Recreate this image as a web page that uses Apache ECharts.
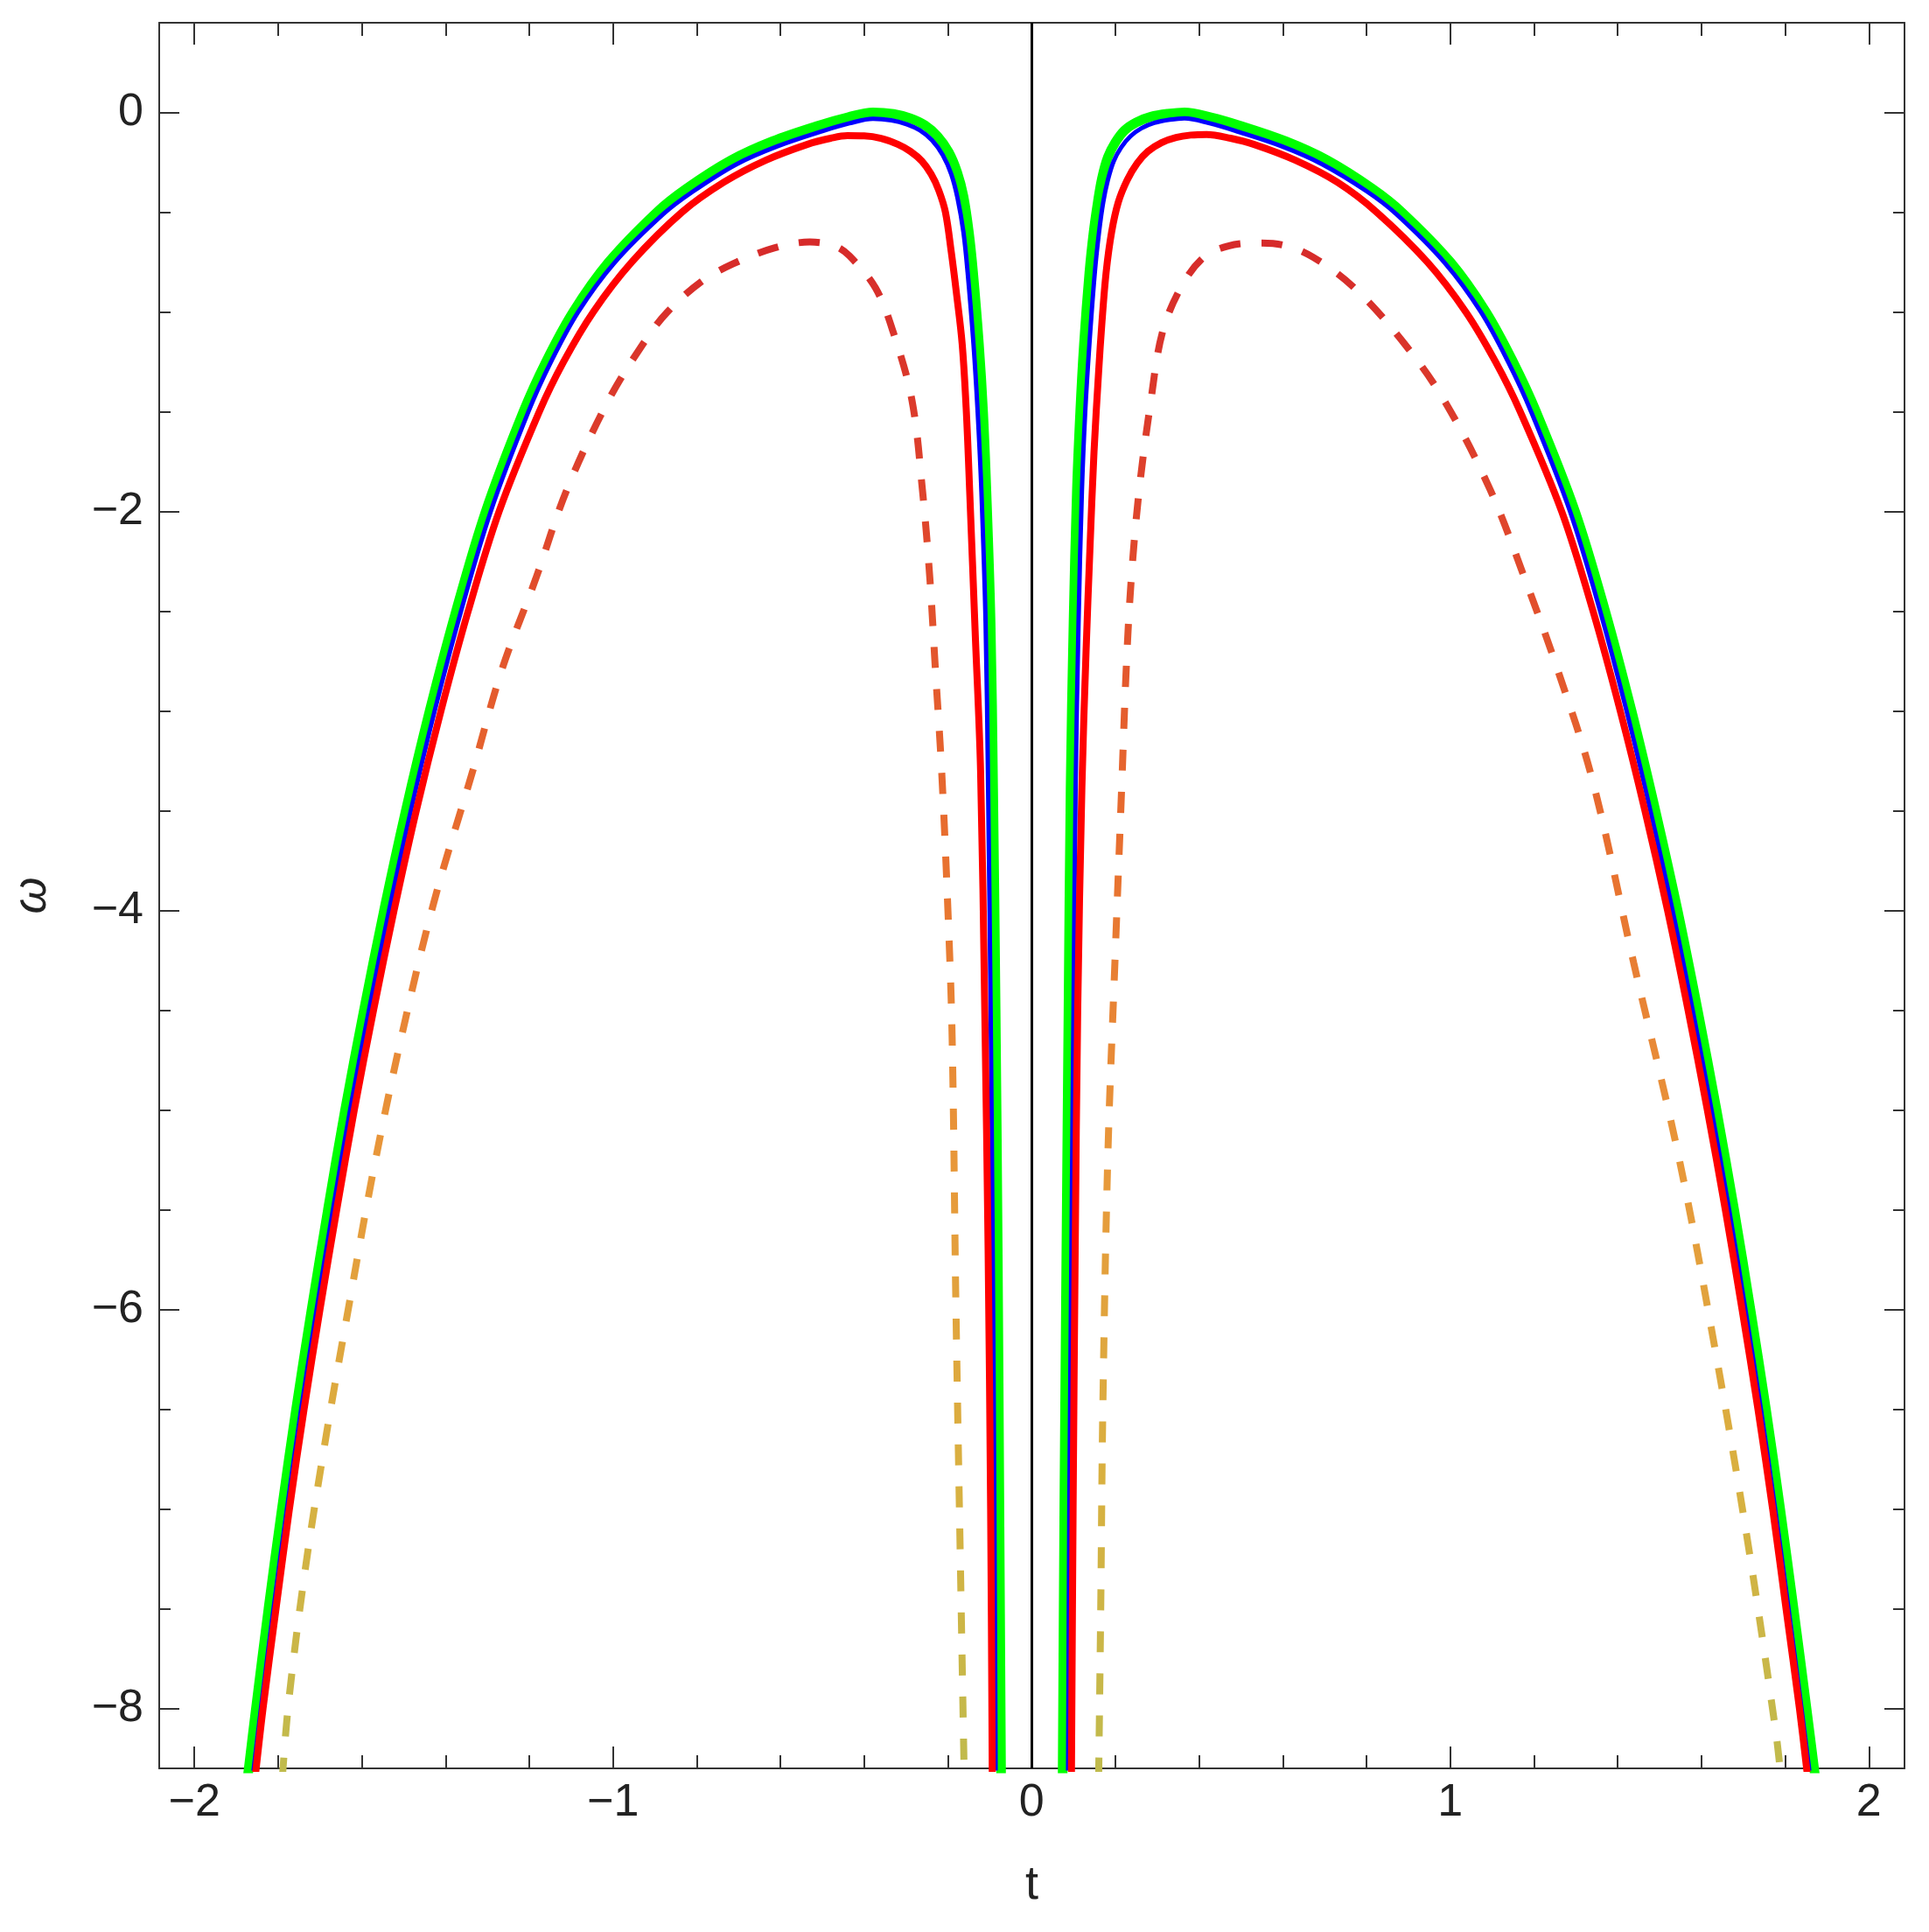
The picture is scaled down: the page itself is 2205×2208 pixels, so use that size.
<!DOCTYPE html>
<html>
<head>
<meta charset="utf-8">
<title>omega(t)</title>
<script src="https://cdn.jsdelivr.net/npm/echarts@6/dist/echarts.min.js"></script>
<style>
  html, body { margin: 0; padding: 0; background: #fff; }
  #chart { width: 2205px; height: 2208px; }
</style>
</head>
<body>
<div id="chart"></div>
<script>
// axis extents and tick positions
const tRange = [-2.084, 2.085]
const wRange = [-8.3, 0.449]
const tMajor = [-2, -1, 0, 1, 2]
const tMinor = [-1.8, -1.6, -1.4, -1.2, -0.8, -0.6, -0.4, -0.2, 0.2, 0.4, 0.6, 0.8, 1.2, 1.4, 1.6, 1.8]
const wMajor = [-8, -6, -4, -2, 0]
const wMinor = [-7.5, -7, -6.5, -5.5, -5, -4.5, -3.5, -3, -2.5, -1.5, -1, -0.5]

// curves, [t, omega]
const greenLeft = [[-1.873,-8.35],[-1.853,-8.0],[-1.823,-7.5],[-1.791,-7.0],[-1.757,-6.5],[-1.72,-6.0],[-1.681,-5.5],[-1.64,-5.0],[-1.595,-4.5],[-1.547,-4.0],[-1.495,-3.5],[-1.438,-3.0],[-1.375,-2.5],[-1.304,-2.0],[-1.214,-1.5],[-1.16,-1.25],[-1.095,-1.0],[-1.01,-0.75],[-0.895,-0.5],[-0.823,-0.38],[-0.718,-0.24],[-0.619,-0.145],[-0.507,-0.065],[-0.439,-0.025],[-0.379,0.0],[-0.33,-0.008],[-0.29,-0.03],[-0.255,-0.065],[-0.225,-0.12],[-0.198,-0.2],[-0.178,-0.3],[-0.163,-0.42],[-0.15,-0.6],[-0.14,-0.8],[-0.126,-1.16],[-0.116,-1.5],[-0.108,-1.9],[-0.098,-2.56],[-0.092,-3.39],[-0.086,-4.5],[-0.081,-5.7],[-0.077,-7.0],[-0.073,-8.35]]
const greenRight = [[0.074,-8.35],[0.078,-7.0],[0.083,-5.7],[0.088,-4.5],[0.093,-3.39],[0.1,-2.56],[0.108,-1.9],[0.116,-1.5],[0.125,-1.16],[0.138,-0.8],[0.148,-0.6],[0.158,-0.45],[0.168,-0.33],[0.182,-0.225],[0.2,-0.15],[0.222,-0.09],[0.25,-0.05],[0.285,-0.022],[0.325,-0.007],[0.365,0.0],[0.428,-0.025],[0.495,-0.065],[0.607,-0.145],[0.706,-0.24],[0.812,-0.38],[0.884,-0.5],[1.0,-0.75],[1.085,-1.0],[1.15,-1.25],[1.205,-1.5],[1.298,-2.0],[1.37,-2.5],[1.433,-3.0],[1.49,-3.5],[1.543,-4.0],[1.591,-4.5],[1.636,-5.0],[1.678,-5.5],[1.717,-6.0],[1.754,-6.5],[1.788,-7.0],[1.82,-7.5],[1.851,-8.0],[1.872,-8.35]]

const blueLeft = [[-1.861,-8.35],[-1.841,-8.0],[-1.811,-7.5],[-1.779,-7.0],[-1.745,-6.5],[-1.708,-6.0],[-1.669,-5.5],[-1.628,-5.0],[-1.583,-4.5],[-1.535,-4.0],[-1.483,-3.5],[-1.426,-3.0],[-1.363,-2.5],[-1.292,-2.0],[-1.202,-1.5],[-1.148,-1.25],[-1.083,-1.0],[-0.997,-0.755],[-0.88,-0.51],[-0.808,-0.395],[-0.705,-0.26],[-0.607,-0.17],[-0.498,-0.093],[-0.435,-0.055],[-0.379,-0.032],[-0.335,-0.04],[-0.298,-0.06],[-0.267,-0.09],[-0.238,-0.14],[-0.212,-0.215],[-0.192,-0.31],[-0.177,-0.43],[-0.163,-0.6],[-0.153,-0.8],[-0.139,-1.16],[-0.129,-1.5],[-0.12,-1.9],[-0.11,-2.56],[-0.104,-3.39],[-0.098,-4.5],[-0.093,-5.7],[-0.089,-7.0],[-0.086,-8.35]]
const blueRight = [[0.087,-8.35],[0.09,-7.0],[0.095,-5.7],[0.1,-4.5],[0.105,-3.39],[0.112,-2.56],[0.12,-1.9],[0.128,-1.5],[0.138,-1.16],[0.151,-0.8],[0.161,-0.6],[0.171,-0.45],[0.182,-0.34],[0.196,-0.245],[0.214,-0.175],[0.236,-0.12],[0.262,-0.08],[0.293,-0.053],[0.33,-0.037],[0.365,-0.03],[0.425,-0.055],[0.487,-0.093],[0.597,-0.17],[0.694,-0.26],[0.8,-0.395],[0.871,-0.51],[0.987,-0.755],[1.073,-1.0],[1.138,-1.25],[1.193,-1.5],[1.286,-2.0],[1.358,-2.5],[1.421,-3.0],[1.478,-3.5],[1.531,-4.0],[1.579,-4.5],[1.624,-5.0],[1.666,-5.5],[1.705,-6.0],[1.742,-6.5],[1.776,-7.0],[1.808,-7.5],[1.839,-8.0],[1.86,-8.35]]

const redLeft = [[-1.855,-8.35],[-1.836,-8.0],[-1.805,-7.5],[-1.773,-7.0],[-1.738,-6.5],[-1.70,-6.0],[-1.66,-5.5],[-1.618,-5.0],[-1.572,-4.5],[-1.523,-4.0],[-1.47,-3.5],[-1.411,-3.0],[-1.346,-2.5],[-1.272,-2.0],[-1.176,-1.5],[-1.118,-1.25],[-1.047,-1.0],[-0.955,-0.75],[-0.835,-0.5],[-0.735,-0.35],[-0.635,-0.24],[-0.535,-0.16],[-0.48,-0.13],[-0.44,-0.117],[-0.40,-0.118],[-0.36,-0.13],[-0.32,-0.16],[-0.29,-0.195],[-0.262,-0.245],[-0.24,-0.31],[-0.222,-0.39],[-0.206,-0.5],[-0.192,-0.7],[-0.18,-0.9],[-0.166,-1.16],[-0.156,-1.5],[-0.148,-1.9],[-0.135,-2.6],[-0.122,-3.3],[-0.112,-4.5],[-0.104,-5.7],[-0.098,-7.0],[-0.094,-8.35]]
const redRight = [[0.095,-8.35],[0.099,-7.0],[0.104,-5.7],[0.11,-4.5],[0.12,-3.385],[0.13,-2.7],[0.139,-2.2],[0.149,-1.7],[0.16,-1.3],[0.168,-1.05],[0.178,-0.8],[0.191,-0.6],[0.207,-0.45],[0.228,-0.34],[0.252,-0.255],[0.278,-0.195],[0.31,-0.152],[0.345,-0.126],[0.38,-0.114],[0.418,-0.111],[0.475,-0.13],[0.53,-0.16],[0.63,-0.24],[0.73,-0.35],[0.824,-0.5],[0.945,-0.75],[1.037,-1.0],[1.108,-1.25],[1.167,-1.5],[1.266,-2.0],[1.341,-2.5],[1.406,-3.0],[1.465,-3.5],[1.519,-4.0],[1.568,-4.5],[1.614,-5.0],[1.657,-5.5],[1.697,-6.0],[1.735,-6.5],[1.77,-7.0],[1.802,-7.5],[1.834,-8.0],[1.854,-8.35]]

const dashLeft = [[-1.79,-8.35],[-1.775,-7.97],[-1.735,-7.3],[-1.685,-6.63],[-1.63,-5.97],[-1.572,-5.3],[-1.505,-4.63],[-1.428,-3.96],[-1.335,-3.3],[-1.265,-2.79],[-1.185,-2.34],[-1.11,-1.89],[-1.01,-1.44],[-0.925,-1.15],[-0.87,-1.0],[-0.79,-0.85],[-0.714,-0.76],[-0.615,-0.68],[-0.53,-0.65],[-0.47,-0.67],[-0.435,-0.72],[-0.373,-0.88],[-0.33,-1.106],[-0.286,-1.442],[-0.261,-1.89],[-0.243,-2.34],[-0.23,-2.79],[-0.215,-3.3],[-0.2,-4.0],[-0.19,-4.63],[-0.181,-5.97],[-0.17,-7.3],[-0.161,-8.35]]
const dashRight = [[0.16,-8.35],[0.165,-7.5],[0.17,-6.5],[0.182,-5.23],[0.2,-4.2],[0.215,-3.385],[0.226,-2.785],[0.238,-2.337],[0.257,-1.89],[0.285,-1.442],[0.312,-1.106],[0.356,-0.88],[0.411,-0.726],[0.47,-0.67],[0.535,-0.655],[0.6,-0.665],[0.672,-0.726],[0.771,-0.88],[0.885,-1.145],[0.985,-1.442],[1.095,-1.89],[1.178,-2.337],[1.255,-2.785],[1.34,-3.35],[1.438,-4.262],[1.545,-5.228],[1.632,-6.193],[1.71,-7.158],[1.778,-8.124],[1.79,-8.35]]

const frameColor = '#333'
const labelFont = { fontFamily: 'Liberation Sans', fontSize: 52, color: '#222' }
const minus = v => String(v).replace('-', '\u2212')

// one axis per side for the long ticks, one more for the short ones
function tAxis(pos, ticks, len, main) {
    return {
        type: 'value', position: pos, min: tRange[0], max: tRange[1],
        name: main ? 't' : '', nameLocation: 'middle', nameGap: 107,
        nameTextStyle: { fontFamily: 'Liberation Sans', fontSize: 54, color: '#222' },
        axisLine: { show: len > 20, onZero: false, lineStyle: { color: frameColor, width: 2 } },
        axisTick: { show: true, inside: true, length: len, customValues: ticks, lineStyle: { color: frameColor, width: 2 } },
        axisLabel: main ? Object.assign({ show: true, margin: 14, customValues: tMajor, formatter: minus }, labelFont) : { show: false },
        splitLine: { show: false }
    }
}
function wAxis(pos, ticks, len, main) {
    return {
        type: 'value', position: pos, min: wRange[0], max: wRange[1],
        name: main ? 'ω' : '', nameLocation: 'middle', nameGap: 118, nameRotate: 90,
        nameTextStyle: { fontFamily: 'Liberation Sans', fontStyle: 'italic', fontSize: 54, color: '#222' },
        axisLine: { show: len > 20, onZero: false, lineStyle: { color: frameColor, width: 2 } },
        axisTick: { show: true, inside: true, length: len, customValues: ticks, lineStyle: { color: frameColor, width: 2 } },
        axisLabel: main ? Object.assign({ show: true, margin: 18, customValues: wMajor, formatter: minus }, labelFont) : { show: false },
        splitLine: { show: false }
    }
}

function curve(data, color, width, z, dash) {
    return {
        type: 'line', data: data, symbol: 'none', smooth: 0.35, z: z, silent: true, clip: true,
        lineStyle: { color: color, width: width, type: dash || 'solid', cap: 'butt' }
    }
}

const dashColor = new echarts.graphic.LinearGradient(0, 0, 0, 1, [
    { offset: 0, color: '#d62a2a' },
    { offset: 0.2, color: '#e0482c' },
    { offset: 0.4, color: '#e8702f' },
    { offset: 0.6, color: '#e8983a' },
    { offset: 0.8, color: '#d9b040' },
    { offset: 1, color: '#bfbb4d' }
])

const chart = echarts.init(document.getElementById('chart'), null, { renderer: 'canvas' })
const g1 = curve(greenLeft, '#00ff00', 11, 2)
// vertical line at t = 0
g1.markLine = {
    silent: true, symbol: ['none', 'none'], label: { show: false },
    lineStyle: { color: '#000', width: 3, type: 'solid' },
    data: [{ xAxis: 0 }]
}
chart.setOption({
    animation: false,
    backgroundColor: '#fff',
    grid: { left: 182, right: 28, top: 26, bottom: 187, containLabel: false, outerBoundsMode: 'none' },
    xAxis: [tAxis('bottom', tMajor, 25, true), tAxis('bottom', tMinor, 15, false), tAxis('top', tMajor, 25, false), tAxis('top', tMinor, 15, false)],
    yAxis: [wAxis('left', wMajor, 23, true), wAxis('left', wMinor, 13, false), wAxis('right', wMajor, 23, false), wAxis('right', wMinor, 13, false)],
    series: [
        g1,
        curve(greenRight, '#00ff00', 11, 2),
        curve(blueLeft, '#0000ff', 5, 3),
        curve(blueRight, '#0000ff', 5, 3),
        curve(redLeft, '#ff0000', 8, 4),
        curve(redRight, '#ff0000', 8, 4),
        curve(dashLeft, dashColor, 8, 5, [24, 24]),
        curve(dashRight, dashColor, 8, 5, [24, 24])
    ]
})
</script>
</body>
</html>
